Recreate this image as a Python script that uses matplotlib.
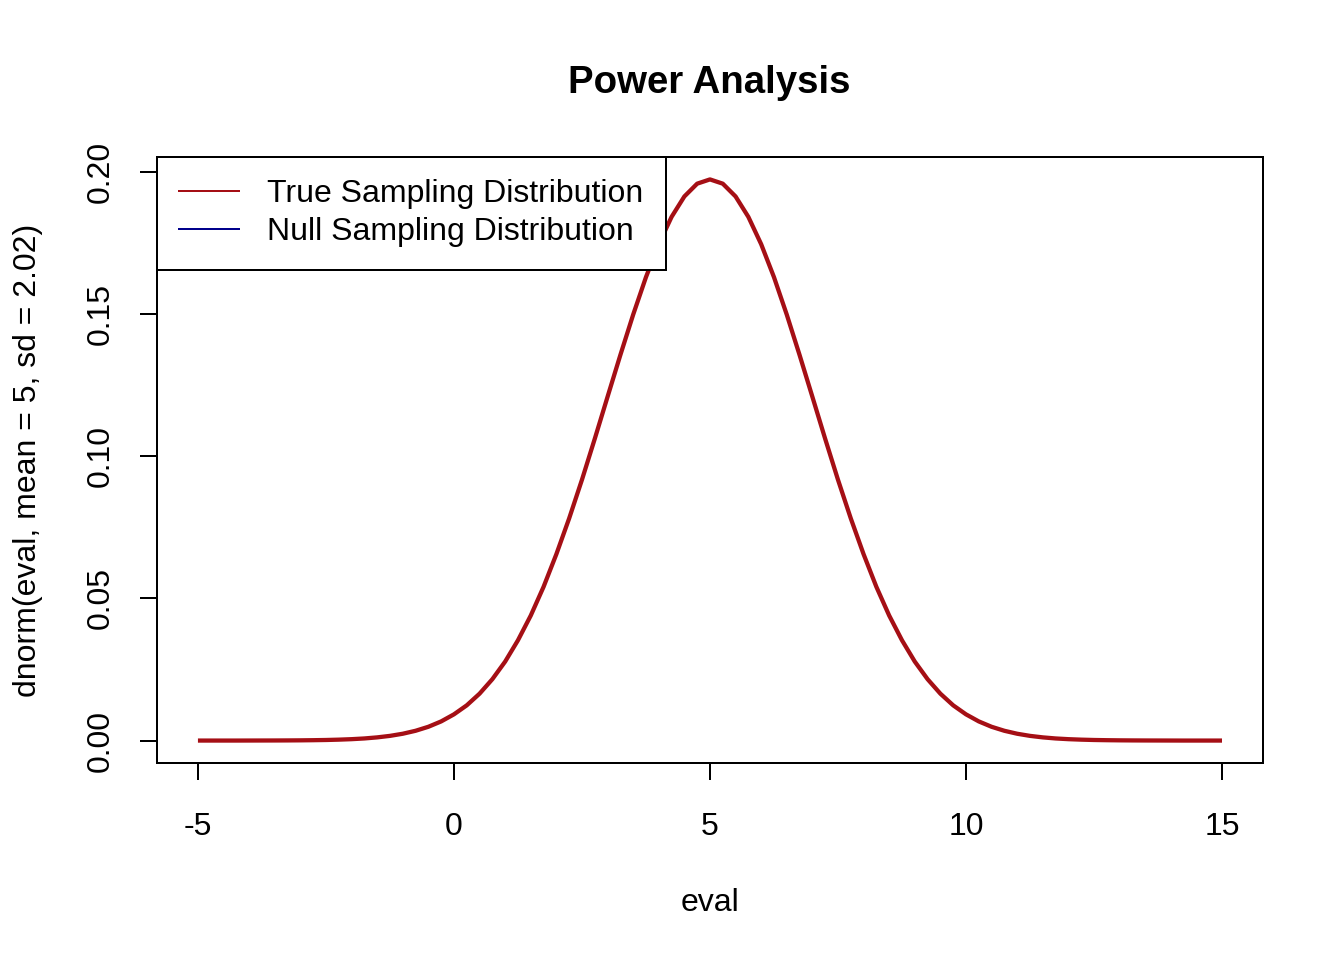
import matplotlib
matplotlib.use('Agg')
import matplotlib.pyplot as plt

plt.rcParams['font.family'] = ['Liberation Sans', 'DejaVu Sans']

# density values, x from -5 to 15 in steps of 0.25
eval_x = [-5 + 0.25 * i for i in range(81)]
# left half, x = -5 ... 5 (peak at the mean, 5)
left_half = [
    0.0, 0.0, 0.0, 0.0, 0.00001, 0.00002, 0.00003, 0.00005, 0.00008,
    0.00013, 0.00020, 0.00032, 0.00049,
    0.00074, 0.00112, 0.00165, 0.00240,
    0.00344, 0.00485, 0.00674, 0.00923,
    0.0124, 0.0165, 0.0216, 0.0278,
    0.0353, 0.0440, 0.0541, 0.0656,
    0.0782, 0.0918, 0.1062, 0.1210,
    0.1357, 0.1499, 0.1631, 0.1747,
    0.1843, 0.1915, 0.1960, 0.1975,
]
# right half mirrors the left
true_density = left_half + left_half[:40][::-1]

legend_labels = ["True Sampling Distribution", "Null Sampling Distribution"]
true_col = "#A50F15"
null_col = "#00008B"

fig = plt.figure(figsize=(7, 5), dpi=192)
ax = fig.add_axes([0.1168, 0.2052, 0.8229, 0.6313])

ax.plot(eval_x, true_density, color=true_col, lw=1.6, solid_capstyle='butt',
        solid_joinstyle='round')
ax.set_xlim(-5.8, 15.8)
ax.set_ylim(-0.0079, 0.2054)

ax.set_xticks([-5, 0, 5, 10, 15])
ax.set_xticklabels(["-5", "0", "5", "10", "15"])
ax.set_yticks([0.0, 0.05, 0.10, 0.15, 0.20])
ax.set_yticklabels(["0.00", "0.05", "0.10", "0.15", "0.20"], rotation=90, va='center')
ax.tick_params(axis='both', direction='out', length=6.5, width=0.75, labelsize=12)
ax.tick_params(axis='x', pad=12)
ax.tick_params(axis='y', pad=9)
for s in ax.spines.values():
    s.set_linewidth(0.75)

ax.set_xlabel("eval", fontsize=12, labelpad=17)
ax.set_ylabel("dnorm(eval, mean = 5, sd = 2.02)", fontsize=12, labelpad=16)
fig.text(0.528, 0.914, "Power Analysis", fontsize=14.4, fontweight='bold', ha='center', va='center')

h1, = ax.plot([], [], color=true_col, lw=0.75)
h2, = ax.plot([], [], color=null_col, lw=0.75)
leg = ax.legend([h1, h2], legend_labels, loc='upper left', bbox_to_anchor=(0, 1),
                borderaxespad=0, fancybox=False, framealpha=1, edgecolor='black',
                fontsize=12, handlelength=1.85, handletextpad=0.9,
                labelspacing=0.25, borderpad=0.7)
leg.get_frame().set_linewidth(0.75)

fig.savefig("out.png", dpi=192)
